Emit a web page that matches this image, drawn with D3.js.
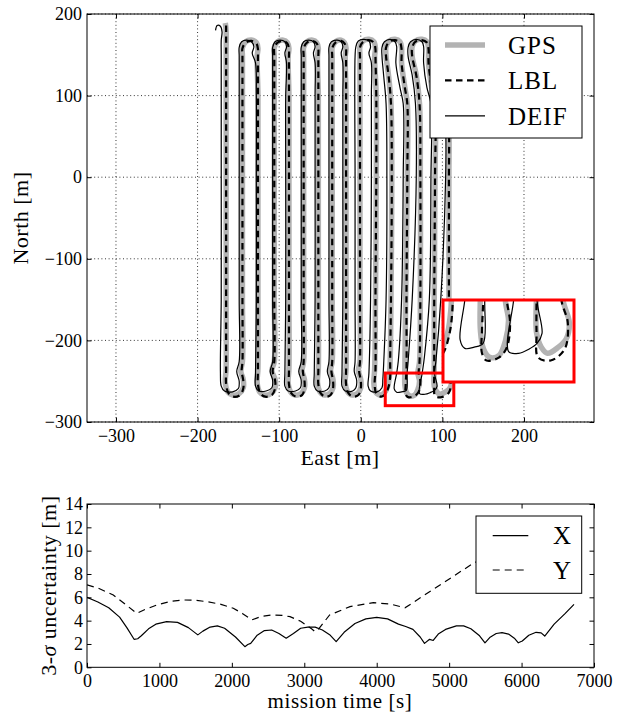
<!DOCTYPE html>
<html>
<head>
<meta charset="utf-8">
<script src="https://cdn.jsdelivr.net/npm/d3@7"></script>
<style>
  body { margin: 0; background: #fff; }
  svg { display: block; }
  text { font-family: "Liberation Serif", "Times New Roman", serif; fill: #000; }
</style>
</head>
<body>
<svg id="chart" width="624" height="719"></svg>
<script>
// ---------- Navigation tracks, East / North in metres ----------
const gpsTrack = [
  [-166,189],[-165,180],[-165,150],[-165,0],[-165,-150],[-165,-235],[-166,-252],[-163,-263],[-157,-267],
  [-149,-265],[-144,-258],[-144,-248],[-147,-238],[-145,-226],[-145,-150],[-145,0],[-145,148],
  [-145,159],[-141,166],[-134,168],[-128,165],[-126,158],[-127,148],[-126,100],[-126,0],[-126,-150],[-126,-235],[-127,-252],[-124,-263],[-118,-267],
  [-110,-265],[-105,-258],[-105,-248],[-109,-237],[-106,-226],[-106,-150],[-106,0],[-106,148],
  [-106,159],[-102,166],[-95,168],[-90,165],[-88,158],[-89,148],[-88,100],[-88,0],[-88,-150],[-88,-235],[-89,-252],[-86,-263],[-80,-267],
  [-73,-265],[-69,-258],[-69,-248],[-72,-237],[-70,-226],[-70,-150],[-70,0],[-70,148],
  [-70,159],[-66,166],[-59,168],[-54,165],[-52,158],[-53,148],[-52,100],[-52,0],[-52,-150],[-52,-235],[-53,-252],[-50,-263],[-44,-267],
  [-38,-265],[-34,-258],[-34,-248],[-37,-237],[-35,-226],[-35,-150],[-35,0],[-35,148],
  [-35,159],[-31,166],[-24,168],[-20,165],[-18,158],[-19,148],[-18,100],[-18,0],[-18,-150],[-18,-235],[-19,-252],[-16,-263],[-10,-267],
  [-4,-265],[0,-258],[0,-248],[-3,-237],[-1,-226],[-1,-150],[-1,0],[-1,148],
  [-1,160],[3,167],[10,169],[16,166],[18,158],[17,148],[19,100],[19,0],[18,-150],[17,-235],[16,-252],[18,-263],[24,-267],
  [29,-264],[33,-256],[35,-245],[36,-226],[37,-150],[38,0],[37,90],[34,125],[31,148],
  [31,160],[35,167],[42,169],[48,166],[50,158],[50,140],[54,110],[57,90],[57,0],[55,-150],[54,-235],[54,-255],[56,-264],[60,-268],
  [66,-267],[70,-260],[72,-250],[70,-240],[72,-226],[73,-150],[73,0],[72,90],[68,125],[63,148],
  [63,160],[67,167],[75,169],[81,166],[83,158],[83,140],[87,110],[91,90],[91,0],[90,-150],[90,-235],[90,-256],[93,-263],[97,-266],
  [104,-263],[109,-259],[111,-251],[107,-240],[108,-226],[108,-150],[108,0],[108,60],[105,100]
];

const lblTrack = [
  [-165,186],[-165,178],[-165,150],[-165,0],[-165,-150],[-165,-236],[-165,-254],[-162,-265],[-156,-269],
  [-148,-267],[-144,-259],[-144,-249],[-146,-238],[-145,-226],[-145,-150],[-145,0],[-145,148],
  [-145,158],[-141,165],[-134,167],[-128,164],[-126,157],[-126,148],[-126,100],[-126,0],[-126,-150],[-126,-236],[-126,-254],[-123,-265],[-117,-269],
  [-109,-267],[-105,-259],[-105,-249],[-108,-238],[-106,-226],[-106,-150],[-106,0],[-106,148],
  [-106,158],[-102,165],[-95,167],[-90,164],[-88,157],[-88,148],[-88,100],[-88,0],[-88,-150],[-88,-236],[-88,-254],[-85,-265],[-79,-269],
  [-72,-267],[-69,-259],[-69,-249],[-71,-238],[-70,-226],[-70,-150],[-70,0],[-70,148],
  [-70,158],[-66,165],[-59,167],[-54,164],[-52,157],[-52,148],[-52,100],[-52,0],[-52,-150],[-52,-236],[-52,-254],[-49,-265],[-43,-269],
  [-37,-267],[-34,-259],[-34,-249],[-36,-238],[-35,-226],[-35,-150],[-35,0],[-35,148],
  [-35,158],[-31,165],[-24,167],[-20,164],[-18,157],[-18,148],[-18,100],[-18,0],[-18,-150],[-18,-236],[-18,-254],[-15,-265],[-9,-269],
  [-3,-267],[0,-259],[0,-249],[-2,-238],[-1,-226],[-1,-150],[-1,0],[-1,148],
  [-1,159],[3,166],[10,168],[16,165],[18,157],[18,148],[19,100],[19,0],[18,-150],[18,-236],[17,-254],[19,-265],[25,-269],
  [30,-266],[34,-257],[36,-245],[36,-226],[37,-150],[38,0],[37,90],[34,125],[31,148],
  [31,159],[35,166],[42,168],[48,165],[50,157],[50,140],[54,110],[57,90],[57,0],[56,-150],[56,-235],[55,-255],[55,-266],[58,-269.5],
  [66,-268],[71,-263],[73,-251],[71,-240],[72,-226],[73,-150],[73,0],[72,90],[68,125],[63,148],
  [63,159],[67,166],[75,168],[81,165],[83,157],[83,140],[87,110],[91,90],[91,0],[90,-150],[90,-235],[90,-256],[91,-268],[99,-269.5],
  [108,-264],[110,-251],[106,-240],[108,-226],[108,-150],[108,0],[108,60],[105,100]
];

const deifTrack = [
  [-178,180],[-176,186],[-172,185],[-170,178],[-171,168],[-171,150],[-171,0],[-171,-150],[-172,-240],[-171,-256],[-167,-262],
  [-157,-263],[-150,-259],[-149,-250],[-152,-238],[-149,-226],[-149,-150],[-149,0],[-149,148],
  [-149,159],[-146,166],[-140,168],[-134,166],[-131,160],[-133,152],[-129,140],[-128,100],[-128,0],[-128,-150],[-129,-240],[-129,-256],[-125,-262],
  [-116,-262],[-109,-258],[-108,-249],[-111,-238],[-108,-226],[-108,-150],[-108,0],[-108,148],
  [-108,159],[-105,166],[-99,168],[-93,166],[-91,160],[-93,152],[-91,140],[-92,100],[-92,0],[-92,-150],[-93,-240],[-93,-256],[-89,-262],
  [-80,-262],[-74,-258],[-73,-249],[-76,-238],[-73,-226],[-73,-150],[-73,0],[-73,148],
  [-73,159],[-70,166],[-64,168],[-58,166],[-56,160],[-58,152],[-56,140],[-56,100],[-56,0],[-56,-150],[-57,-240],[-57,-256],[-53,-262],
  [-44,-262],[-39,-258],[-38,-249],[-41,-238],[-39,-226],[-39,-150],[-39,0],[-39,148],
  [-39,159],[-36,166],[-29,168],[-24,166],[-22,160],[-24,152],[-22,140],[-22,100],[-22,0],[-22,-150],[-23,-240],[-23,-256],[-19,-262],
  [-10,-262],[-6,-258],[-5,-249],[-8,-238],[-7,-226],[-7,-150],[-7,0],[-7,148],
  [-6,160],[-3,167],[4,169],[10,167],[12,160],[10,152],[13,140],[13,100],[13,0],[12,-150],[10,-240],[9,-256],[12,-262],
  [20,-263],[26,-258],[27,-248],[28,-230],[31,-150],[32,0],[31,90],[28,125],[26,148],
  [26,159],[29,166],[36,169],[42,166],[44,160],[43,140],[48,110],[52,90],[52,0],[50,-150],[46,-225],[44,-240],[41,-259.5],[44,-263.6],
  [50,-263],[55.7,-261.2],[56.8,-240],[58,-226],[63,-150],[68,0],[67,90],[63,125],[58,148],
  [58,159],[61,166],[68,169],[75,166],[77,160],[77,140],[81,110],[86,90],[86,0],[84,-150],[78,-220],[75.3,-240],[72.1,-265.2],[78.5,-266],
  [85,-264],[90.3,-261.2],[93.5,-256.3],[90.3,-240],[92,-226],[98,-150],[104,0],[104,60],[101,100]
];

const eastTicks  = [-300, -200, -100, 0, 100, 200];
const northTicks = [-300, -200, -100, 0, 100, 200];

// zoom window (East/North, metres)
const zoomEast  = [30, 114];
const zoomNorth = [-280, -240];

// ---------- 3-sigma position uncertainty vs mission time ----------
const sigmaX = [
  [0,6.0],[150,5.6],[300,5.1],[450,4.3],[550,3.4],[650,2.4],[700,2.45],[750,2.7],[850,3.3],[950,3.7],
  [1100,3.92],[1250,3.85],[1400,3.4],[1530,2.78],[1600,3.1],[1700,3.45],[1800,3.55],[1900,3.35],[2050,2.6],
  [2180,1.77],[2220,1.95],[2260,2.05],[2350,2.75],[2450,3.15],[2550,3.2],[2650,2.9],[2750,2.5],[2850,2.9],
  [2950,3.35],[3050,3.45],[3150,3.44],[3250,3.2],[3350,2.8],[3440,2.2],[3550,3.0],[3700,3.75],[3850,4.15],
  [4000,4.28],[4150,4.15],[4300,3.7],[4400,3.5],[4500,3.25],[4600,2.6],[4660,2.05],[4730,2.4],[4780,2.3],
  [4850,2.85],[4950,3.25],[5100,3.55],[5200,3.55],[5300,3.3],[5420,2.7],[5495,2.1],[5560,2.55],[5650,2.9],
  [5730,2.97],[5820,2.85],[5900,2.5],[5955,2.1],[6010,2.25],[6100,2.75],[6200,3.0],[6270,2.95],[6320,2.68],
  [6450,3.7],[6600,4.6],[6724,5.4]
];
const sigmaY = [
  [0,7.06],[150,6.8],[363,6.2],[550,5.3],[686,4.63],[800,4.95],[962,5.34],[1150,5.65],[1330,5.77],[1500,5.75],
  [1652,5.63],[1850,5.4],[2020,5.06],[2150,4.6],[2274,4.06],[2400,4.35],[2550,4.49],[2700,4.45],[2803,4.34],
  [2950,3.95],[3100,3.3],[3150,3.05],[3200,3.3],[3350,4.49],[3631,5.2],[3953,5.54],[4183,5.43],[4390,5.1],
  [5334,8.92],[6724,12.9]
];
const timeTicks  = [0, 1000, 2000, 3000, 4000, 5000, 6000, 7000];
const sigmaTicks = [0, 2, 4, 6, 8, 10, 12, 14];

// ---------- styles ----------
const GPS_STYLE  = { stroke: "#b3b3b3", width: 5.5, dash: null };
const LBL_STYLE  = { stroke: "#000", width: 2.2, dash: "6.5,4.5" };
const DEIF_STYLE = { stroke: "#000", width: 1.2, dash: null };
const TICK = 4.5;

const svg = d3.select("#chart");

function styleAxis(g, size) {
  g.select(".domain").remove();
  g.selectAll(".tick line").attr("stroke", "#000").attr("stroke-width", 1);
  g.selectAll("text").attr("font-family", "Liberation Serif, serif").attr("font-size", size).attr("fill", "#000");
  g.attr("font-family", null).attr("font-size", null);
}

// ================= Top panel: East / North map =================
const mx = d3.scaleLinear().domain([-335.5, 285.8]).range([87, 594]);
const my = d3.scaleLinear().domain([-300, 200]).range([422, 14]);
const mapL = mx.range()[0], mapR = mx.range()[1], mapT = my.range()[1], mapB = my.range()[0];

svg.append("clipPath").attr("id", "mapClip")
  .append("rect").attr("x", mapL).attr("y", mapT).attr("width", mapR - mapL).attr("height", mapB - mapT);

const grid = svg.append("g").attr("stroke", "#000").attr("stroke-width", 0.8).attr("stroke-dasharray", "1,2.6");
grid.selectAll("line.gx").data(eastTicks).join("line").attr("class", "gx")
  .attr("x1", d => mx(d)).attr("x2", d => mx(d)).attr("y1", mapT).attr("y2", mapB);
grid.selectAll("line.gy").data(northTicks).join("line").attr("class", "gy")
  .attr("x1", mapL).attr("x2", mapR).attr("y1", d => my(d)).attr("y2", d => my(d));

function drawTracks(g, xs, ys) {
  const line = d3.line().x(d => xs(d[0])).y(d => ys(d[1])).curve(d3.curveCatmullRom.alpha(0.5));
  [[gpsTrack, GPS_STYLE], [lblTrack, LBL_STYLE], [deifTrack, DEIF_STYLE]].forEach(([data, s]) => {
    g.append("path").datum(data).attr("d", line)
      .attr("fill", "none").attr("stroke", s.stroke).attr("stroke-width", s.width)
      .attr("stroke-dasharray", s.dash).attr("stroke-linejoin", "round");
  });
}
drawTracks(svg.append("g").attr("clip-path", "url(#mapClip)"), mx, my);

// zoom window outline
svg.append("rect")
  .attr("x", mx(zoomEast[0])).attr("y", my(zoomNorth[1]))
  .attr("width", mx(zoomEast[1]) - mx(zoomEast[0])).attr("height", my(zoomNorth[0]) - my(zoomNorth[1]))
  .attr("fill", "none").attr("stroke", "#ff0000").attr("stroke-width", 3);

// magnified inset
const ix = d3.scaleLinear().domain(zoomEast).range([443, 574]);
const iy = d3.scaleLinear().domain(zoomNorth).range([382, 300]);
svg.append("clipPath").attr("id", "insetClip")
  .append("rect").attr("x", 443).attr("y", 300).attr("width", 131).attr("height", 82);
svg.append("rect").attr("x", 443).attr("y", 300).attr("width", 131).attr("height", 82).attr("fill", "#fff");
drawTracks(svg.append("g").attr("clip-path", "url(#insetClip)"), ix, iy);
svg.append("rect").attr("x", 443).attr("y", 300).attr("width", 131).attr("height", 82)
  .attr("fill", "none").attr("stroke", "#ff0000").attr("stroke-width", 3);

// axes of the map
const fmt = d3.format("d");
svg.append("g").attr("transform", `translate(0,${mapB})`)
  .call(d3.axisBottom(mx).tickValues(eastTicks).tickSize(-TICK).tickPadding(7.5).tickFormat(fmt))
  .call(g => styleAxis(g, 18));
svg.append("g").attr("transform", `translate(0,${mapT})`)
  .call(d3.axisTop(mx).tickValues(eastTicks).tickSize(-TICK).tickFormat(""))
  .call(g => styleAxis(g, 18));
svg.append("g").attr("transform", `translate(${mapL},0)`)
  .call(d3.axisLeft(my).tickValues(northTicks).tickSize(-TICK).tickPadding(5).tickFormat(fmt))
  .call(g => styleAxis(g, 18));
svg.append("g").attr("transform", `translate(${mapR},0)`)
  .call(d3.axisRight(my).tickValues(northTicks).tickSize(-TICK).tickFormat(""))
  .call(g => styleAxis(g, 18));

// legend
const leg1 = svg.append("g");
leg1.append("rect").attr("x", 430).attr("y", 26).attr("width", 152).attr("height", 112)
  .attr("fill", "#fff").attr("stroke", "#000").attr("stroke-width", 1);
const legendRows = [["GPS", GPS_STYLE], ["LBL", LBL_STYLE], ["DEIF", DEIF_STYLE]];
legendRows.forEach(([name, s], i) => {
  const yy = 45 + i * 35.4;
  leg1.append("line").attr("x1", 445).attr("x2", 485).attr("y1", yy).attr("y2", yy)
    .attr("stroke", s.stroke).attr("stroke-width", s.width).attr("stroke-dasharray", s.dash);
  leg1.append("text").attr("x", 508).attr("y", yy + 8.7).attr("font-size", 25)
    .attr("letter-spacing", 1).text(name);
});

svg.append("rect").attr("x", mapL).attr("y", mapT).attr("width", mapR - mapL).attr("height", mapB - mapT)
  .attr("fill", "none").attr("stroke", "#000").attr("stroke-width", 1);

svg.append("text").attr("x", (mapL + mapR) / 2 - 0.5).attr("y", 465).attr("text-anchor", "middle")
  .attr("font-size", 22).attr("letter-spacing", 0.5).text("East [m]");
svg.append("text").attr("transform", `translate(28,${(mapT + mapB) / 2}) rotate(-90)`)
  .attr("text-anchor", "middle").attr("font-size", 22).attr("letter-spacing", 0.5).text("North [m]");

// ================= Bottom panel: uncertainty =================
const tx = d3.scaleLinear().domain([0, 7000]).range([87, 594]);
const sy = d3.scaleLinear().domain([0, 14]).range([667.3, 504]);
const pL = 87, pR = 594, pT = 504, pB = 667.3;

svg.append("clipPath").attr("id", "sigClip")
  .append("rect").attr("x", pL).attr("y", pT).attr("width", pR - pL).attr("height", pB - pT);
const sigLine = d3.line().x(d => tx(d[0])).y(d => sy(d[1]));
const sg = svg.append("g").attr("clip-path", "url(#sigClip)");
sg.append("path").datum(sigmaX).attr("d", sigLine).attr("fill", "none")
  .attr("stroke", "#000").attr("stroke-width", 1.2).attr("stroke-linejoin", "round");
sg.append("path").datum(sigmaY).attr("d", sigLine).attr("fill", "none")
  .attr("stroke", "#000").attr("stroke-width", 1.2).attr("stroke-dasharray", "7,5");

svg.append("g").attr("transform", `translate(0,${pB})`)
  .call(d3.axisBottom(tx).tickValues(timeTicks).tickSize(-TICK).tickPadding(6.6).tickFormat(fmt))
  .call(g => styleAxis(g, 18));
svg.append("g").attr("transform", `translate(0,${pT})`)
  .call(d3.axisTop(tx).tickValues(timeTicks).tickSize(-TICK).tickFormat(""))
  .call(g => styleAxis(g, 18));
svg.append("g").attr("transform", `translate(${pL},0)`)
  .call(d3.axisLeft(sy).tickValues(sigmaTicks).tickSize(-TICK).tickPadding(4).tickFormat(fmt))
  .call(g => styleAxis(g, 18));
svg.append("g").attr("transform", `translate(${pR},0)`)
  .call(d3.axisRight(sy).tickValues(sigmaTicks).tickSize(-TICK).tickFormat(""))
  .call(g => styleAxis(g, 18));

const leg2 = svg.append("g");
leg2.append("rect").attr("x", 476).attr("y", 516).attr("width", 105.7).attr("height", 77.3)
  .attr("fill", "#fff").attr("stroke", "#000").attr("stroke-width", 1);
[["X", null], ["Y", "7,5"]].forEach(([name, dash], i) => {
  const yy = 535.7 + i * 34.3;
  leg2.append("line").attr("x1", 492.7).attr("x2", 528.3).attr("y1", yy).attr("y2", yy)
    .attr("stroke", "#000").attr("stroke-width", 1.2).attr("stroke-dasharray", dash);
  leg2.append("text").attr("x", 553).attr("y", yy + 8.5).attr("font-size", 25).text(name);
});

svg.append("rect").attr("x", pL).attr("y", pT).attr("width", pR - pL).attr("height", pB - pT)
  .attr("fill", "none").attr("stroke", "#000").attr("stroke-width", 1);

svg.append("text").attr("x", 340).attr("y", 708).attr("text-anchor", "middle")
  .attr("font-size", 21).attr("letter-spacing", 0.6).text("mission time [s]");
const yl = svg.append("text").attr("transform", `translate(56,${(pT + pB) / 2}) rotate(-90)`)
  .attr("text-anchor", "middle").attr("font-size", 22).attr("letter-spacing", 0.5);
yl.append("tspan").text("3-");
yl.append("tspan").attr("font-style", "italic").text("σ");
yl.append("tspan").text(" uncertainty [m]");
</script>
</body>
</html>
